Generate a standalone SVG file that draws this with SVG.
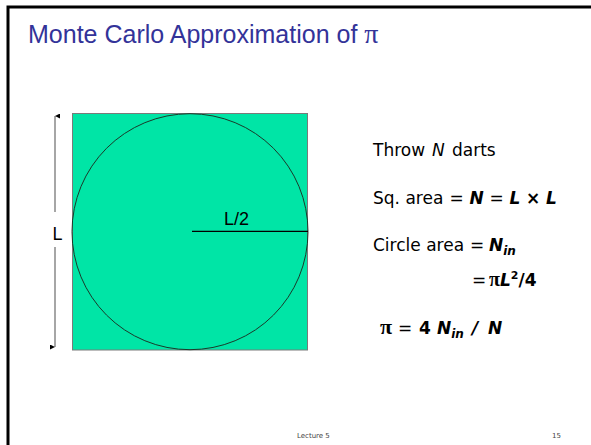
<svg xmlns="http://www.w3.org/2000/svg" width="591" height="445" viewBox="0 0 591 445">
<defs>
<marker id="ah" viewBox="0 0 10 10" refX="5" refY="0" markerWidth="5" markerHeight="5" orient="auto-start-reverse" markerUnits="userSpaceOnUse">
<path d="M0,10 L5,0 L10,10 Z" fill="#000"/>
</marker>
<style>
.t{font-family:"DejaVu Sans",Verdana,sans-serif;font-size:17px;fill:#000}
.b{font-weight:bold;font-style:italic}
.s{font-family:"Liberation Serif",serif;font-weight:bold}
.a{font-family:"Liberation Sans",Arial,sans-serif;font-size:18px;fill:#000}
.f{font-family:"DejaVu Sans",sans-serif;font-size:7px;fill:#444}
</style>
</defs>
<rect width="591" height="445" fill="#fff"/>
<path d="M8,445 V7 H591" fill="none" stroke="#000" stroke-width="3"/>
<text x="28" y="43" font-family="'Liberation Sans',Arial,sans-serif" font-size="25" fill="#333399">Monte Carlo Approximation of <tspan font-family="'Liberation Serif',serif" font-size="28">π</tspan></text>
<g id="square">
<rect x="72.5" y="113.5" width="235" height="236.5" fill="#00E5A6" stroke="#7a7a7a" stroke-width="1"/>
</g>
<g id="circle">
<circle cx="190" cy="231.7" r="118" fill="none" stroke="#1a3a2a" stroke-width="1"/>
</g>
<g id="radius">
<line x1="192" y1="231.3" x2="308" y2="231.3" stroke="#000" stroke-width="1.2"/>
<text class="a" x="224" y="225">L/2</text>
</g>
<g id="connectors">
<line x1="55" y1="116" x2="55" y2="212" stroke="#888" stroke-width="1.5" marker-start="url(#ah)"/>
<line x1="55" y1="247" x2="55" y2="347" stroke="#888" stroke-width="1.5" marker-end="url(#ah)"/>
</g>
<g id="dim-label">
<text class="a" x="52.5" y="239.5">L</text>
</g>
<g id="text">
<text class="t" x="373" y="156">Throw<tspan x="432" font-style="italic">N</tspan><tspan x="452">darts</tspan></text>
<text class="t" x="373" y="204">Sq. area<tspan x="449.5">=</tspan><tspan class="b" x="469.5">N</tspan><tspan x="489.5">=</tspan><tspan class="b" x="509.5">L</tspan><tspan x="526" font-weight="bold">×</tspan><tspan class="b" x="546">L</tspan></text>
<text class="t" x="373" y="251">Circle area<tspan x="470">=</tspan><tspan class="b" x="489">N</tspan><tspan class="b" font-size="12" dy="4">in</tspan></text>
<text class="t" x="472" y="286">=<tspan class="s" x="489" font-size="20">π</tspan><tspan class="b" x="500">L</tspan><tspan font-weight="bold" font-size="11" dy="-7">2</tspan><tspan font-weight="bold" dy="7">/4</tspan></text>
<text class="t" x="380" y="334"><tspan class="s" font-size="22">π</tspan><tspan x="398">=</tspan><tspan font-weight="bold" x="419">4</tspan><tspan class="b" x="437">N</tspan><tspan class="b" font-size="12" dy="4">in</tspan><tspan class="b" x="472" dy="-4">/</tspan><tspan class="b" x="488">N</tspan></text>
</g>
<text class="f" x="297" y="438">Lecture 5</text>
<text class="f" x="552" y="438">15</text>
</svg>
